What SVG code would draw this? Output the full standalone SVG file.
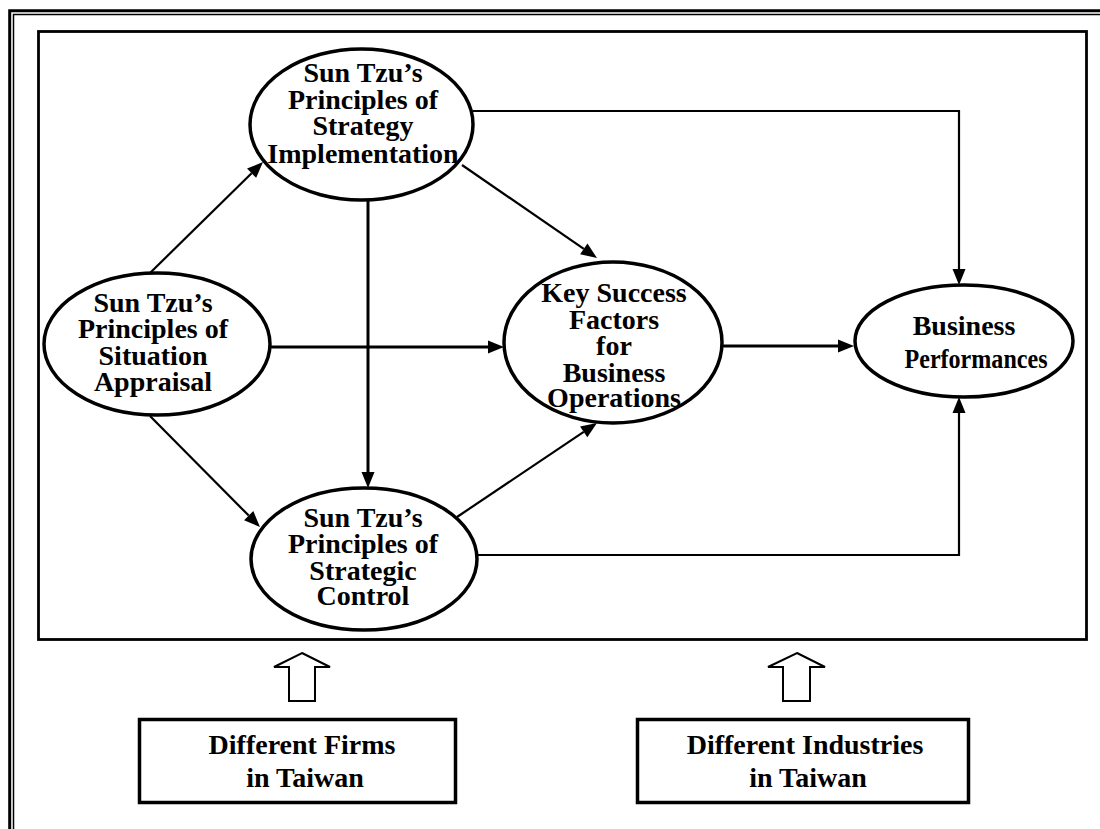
<svg xmlns="http://www.w3.org/2000/svg" width="1100" height="829" viewBox="0 0 1100 829">
  <style>
    .frame { fill: none; stroke: #000; }
    .node { fill: #fff; stroke: #000; stroke-width: 3.5; }
    .box { fill: #fff; stroke: #000; stroke-width: 3.5; }
    .label { font-family: "Liberation Serif", "Times New Roman", serif; font-weight: bold; font-size: 28px; fill: #000; text-anchor: middle; }
    .link { fill: none; stroke: #000; }
    .thin { stroke-width: 2.2; }
    .thick { stroke-width: 3; }
    .block { fill: #fff; stroke: #000; stroke-width: 2; stroke-linejoin: miter; }
  </style>
  <defs>
    <marker id="head" markerUnits="userSpaceOnUse" markerWidth="18" markerHeight="14" refX="0" refY="6.5" orient="auto" overflow="visible">
      <path d="M0,0 L16,6.5 L0,13 z" fill="#000"/>
    </marker>
  </defs>

  <rect width="1100" height="829" fill="#fff"/>

  <!-- page border (double rule) -->
  <path class="frame" d="M9.7 829 V10.8 H1100" stroke-width="3"/>
  <path class="frame" d="M13.5 829 V14.6 H1100" stroke-width="1.5"/>

  <!-- model frame -->
  <rect class="frame" x="38.5" y="31.5" width="1048" height="608" stroke-width="2.8"/>

  <!-- connectors -->
  <g id="connectors">
    <line class="link thin" x1="150" y1="273" x2="251.6" y2="173.2" marker-end="url(#head)"/>
    <line class="link thin" x1="150" y1="416" x2="248.7" y2="515.6" marker-end="url(#head)"/>
    <line class="link thick" x1="270" y1="347" x2="488" y2="347" marker-end="url(#head)"/>
    <line class="link thick" x1="368" y1="200" x2="368" y2="472" marker-end="url(#head)"/>
    <line class="link thin" x1="462" y1="165" x2="583.8" y2="248.9" marker-end="url(#head)"/>
    <line class="link thin" x1="457" y1="517" x2="583.7" y2="431.9" marker-end="url(#head)"/>
    <line class="link thick" x1="722" y1="346" x2="838" y2="346" marker-end="url(#head)"/>
    <path class="link thin" d="M473 111 H959 V269" marker-end="url(#head)"/>
    <path class="link thin" d="M477 555 H959 V413" marker-end="url(#head)"/>
  </g>

  <!-- construct nodes -->
  <g id="appraisal">
    <ellipse class="node" cx="157" cy="344" rx="113" ry="71"/>
    <text class="label" x="153" y="312">Sun Tzu’s</text>
    <text class="label" x="153" y="338">Principles of</text>
    <text class="label" x="153" y="365">Situation</text>
    <text class="label" x="153" y="391">Appraisal</text>
  </g>

  <g id="implementation">
    <ellipse class="node" cx="361.5" cy="124.5" rx="111.5" ry="75.5"/>
    <text class="label" x="363" y="82">Sun Tzu’s</text>
    <text class="label" x="363" y="109">Principles of</text>
    <text class="label" x="363" y="135">Strategy</text>
    <text class="label" x="363" y="163">Implementation</text>
  </g>

  <g id="control">
    <ellipse class="node" cx="364" cy="559" rx="113" ry="71"/>
    <text class="label" x="363" y="527">Sun Tzu’s</text>
    <text class="label" x="363" y="553">Principles of</text>
    <text class="label" x="363" y="580">Strategic</text>
    <text class="label" x="363" y="605">Control</text>
  </g>

  <g id="success-factors">
    <ellipse class="node" cx="613" cy="342.5" rx="109" ry="80.5"/>
    <text class="label" x="614" y="302">Key Success</text>
    <text class="label" x="614" y="329">Factors</text>
    <text class="label" x="614" y="355">for</text>
    <text class="label" x="614" y="382">Business</text>
    <text class="label" x="614" y="407">Operations</text>
  </g>

  <g id="performance">
    <ellipse class="node" cx="964" cy="341" rx="109" ry="56"/>
    <text class="label" x="964" y="335">Business</text>
    <text class="label" x="976" y="368" textLength="143" lengthAdjust="spacingAndGlyphs">Performances</text>
  </g>

  <!-- contextual factors -->
  <g id="firms">
    <polygon class="block" points="302,653 330,667 315,667 315,701 289,701 289,667 274,667"/>
    <rect class="box" x="139.5" y="719.5" width="316" height="83"/>
    <text class="label" x="302" y="754">Different Firms</text>
    <text class="label" x="305" y="787">in Taiwan</text>
  </g>

  <g id="industries">
    <polygon class="block" points="797,653 825,667 810,667 810,701 783,701 783,667 768,667"/>
    <rect class="box" x="637.5" y="719.5" width="331" height="83"/>
    <text class="label" x="805" y="754">Different Industries</text>
    <text class="label" x="808" y="787">in Taiwan</text>
  </g>
</svg>
